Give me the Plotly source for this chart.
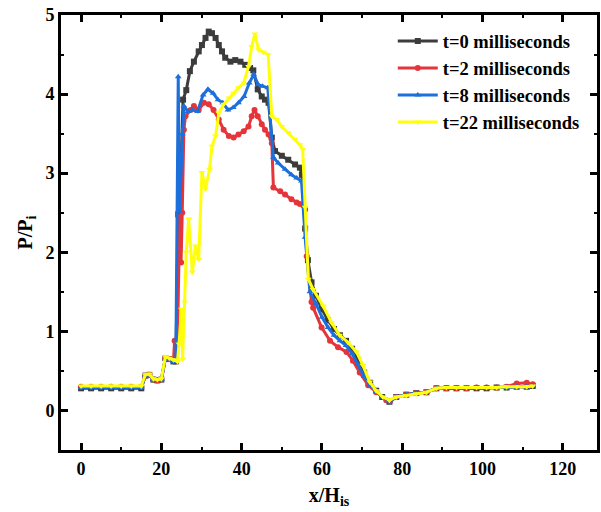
import plotly.graph_objects as go

# ---- data ----
base_x = [0, 2.5, 5, 7.5, 10, 12.5, 15, 16, 17, 18, 19, 20, 21, 22, 23]
tail_x = [78.5, 81, 83.5, 86, 88.5, 91, 93.5, 96, 98.5, 101, 103.5, 106, 108.5, 111, 112.5]

t0_x = [23.6, 24.2, 24.5, 25.4, 26.2, 27.1, 28.1, 29.3, 30.1, 31.0, 31.8, 32.6, 33.5, 34.3, 35.1, 35.9,
        37.2, 38.4, 39.7, 40.9, 42.1, 42.9, 44.0, 45.0, 45.8, 46.7, 47.5, 48.3, 50.0, 51.6, 53.3, 54.5,
        55.0, 55.8, 56.5, 57.4, 58.5, 60.0, 61.5, 63.0, 64.5, 66.0, 67.5, 69.0, 70.5, 72.0, 73.5, 75.0, 76.8]
t0_mid = [0.62, 2.48, 2.45, 3.93, 4.05, 4.29, 4.41, 4.54, 4.62, 4.71, 4.79, 4.77, 4.71, 4.62, 4.54, 4.46,
          4.41, 4.43, 4.41, 4.37, 4.33, 4.30, 4.06, 3.97, 3.93, 3.89, 3.45, 3.28, 3.22, 3.17, 3.11, 3.07,
          2.98, 2.30, 1.90, 1.62, 1.45, 1.28, 1.14, 1.03, 0.95, 0.88, 0.78, 0.63, 0.48, 0.35, 0.25, 0.17, 0.11]
t0_base = [0.28, 0.28, 0.28, 0.28, 0.28, 0.28, 0.28, 0.44, 0.45, 0.39, 0.38, 0.39, 0.66, 0.65, 0.62]
t0_tail = [0.17, 0.20, 0.22, 0.23, 0.28, 0.28, 0.28, 0.28, 0.28, 0.28, 0.29, 0.29, 0.30, 0.30, 0.31]

t2_x = [23.3, 24.0, 24.6, 24.9, 25.2, 25.6, 26.0, 27.3, 28.1, 29.3, 30.6, 31.8, 33.0, 34.3, 35.5, 36.8,
        38.0, 39.2, 40.5, 41.7, 42.5, 43.2, 44.0, 45.0, 45.8, 46.7, 47.5, 47.9, 49.6, 50.8, 52.4, 53.7,
        54.5, 55.8, 56.2, 57.4, 57.8, 59.9, 62.0, 64.0, 66.1, 67.7, 69.4, 71.5, 73.5, 76.0, 77.0]
t2_mid = [0.88, 0.90, 2.45, 1.87, 2.50, 3.55, 3.72, 3.80, 3.85, 3.80, 3.89, 3.87, 3.80, 3.68, 3.55, 3.47,
          3.45, 3.49, 3.53, 3.59, 3.72, 3.80, 3.72, 3.62, 3.55, 3.49, 3.38, 2.82, 2.77, 2.73, 2.67, 2.63,
          2.61, 2.54, 1.95, 1.37, 1.30, 1.05, 0.88, 0.80, 0.74, 0.63, 0.48, 0.32, 0.23, 0.13, 0.12]
t2_base = [0.30, 0.30, 0.30, 0.30, 0.30, 0.30, 0.30, 0.44, 0.45, 0.39, 0.38, 0.39, 0.66, 0.65, 0.63]
t2_tail = [0.17, 0.20, 0.22, 0.23, 0.28, 0.28, 0.28, 0.28, 0.29, 0.29, 0.29, 0.30, 0.34, 0.35, 0.33]

t8_x = [23.6, 24.2, 24.5, 25.2, 25.6, 26.6, 27.8, 29.0, 30.4, 31.6, 32.9, 34.1, 35.3, 36.6, 37.9, 39.2,
        40.6, 41.9, 43.0, 44.1, 45.2, 46.5, 47.9, 49.1, 50.8, 52.4, 53.7, 54.9, 55.8, 57.0, 58.5, 60.0,
        61.5, 63.0, 64.5, 66.0, 67.5, 69.0, 70.5, 72.0, 73.5, 75.0, 76.8]
t8_mid = [0.62, 4.22, 2.52, 3.50, 3.85, 3.78, 3.80, 3.78, 3.99, 4.06, 4.01, 3.93, 3.89, 3.80, 3.83, 3.89,
          3.97, 4.14, 4.25, 4.12, 4.10, 4.08, 3.20, 3.13, 3.05, 2.98, 2.94, 2.90, 2.19, 1.50, 1.35, 1.18,
          1.05, 0.95, 0.88, 0.82, 0.72, 0.58, 0.43, 0.32, 0.24, 0.17, 0.12]
t8_base = [0.29, 0.29, 0.29, 0.29, 0.29, 0.29, 0.29, 0.44, 0.45, 0.39, 0.38, 0.39, 0.66, 0.65, 0.62]
t8_tail = [0.17, 0.20, 0.22, 0.23, 0.28, 0.28, 0.28, 0.28, 0.28, 0.29, 0.29, 0.29, 0.30, 0.30, 0.31]

t22_x = [24.0, 24.4, 25.0, 25.3, 25.8, 26.2, 26.8, 27.7, 28.5, 29.3, 30.1, 31.0, 32.0, 32.6, 33.5, 34.3,
         35.5, 36.8, 38.0, 39.2, 40.5, 41.7, 42.5, 43.3, 44.2, 45.4, 46.6, 47.5, 48.7, 50.0, 51.6, 53.3,
         54.5, 55.2, 55.8, 56.6, 57.8, 60.3, 62.4, 64.4, 66.5, 68.6, 70.2, 71.9, 73.5, 75.2, 76.8]
t22_mid = [0.62, 0.84, 1.28, 0.65, 1.37, 2.00, 2.42, 1.75, 2.08, 1.91, 3.01, 2.80, 3.05, 3.34, 3.47, 3.76,
           3.87, 3.95, 4.01, 4.08, 4.14, 4.35, 4.60, 4.76, 4.56, 4.53, 4.50, 3.72, 3.68, 3.59, 3.51, 3.43,
           3.36, 3.30, 2.57, 1.66, 1.53, 1.32, 1.11, 0.95, 0.86, 0.74, 0.57, 0.36, 0.25, 0.17, 0.13]
t22_base = [0.31, 0.31, 0.31, 0.31, 0.31, 0.31, 0.31, 0.45, 0.46, 0.40, 0.39, 0.40, 0.68, 0.66, 0.64]
t22_tail = [0.17, 0.19, 0.21, 0.23, 0.28, 0.29, 0.29, 0.29, 0.29, 0.29, 0.29, 0.30, 0.30, 0.30, 0.31]

names = ["t=0 milliseconds", "t=2 milliseconds", "t=8 milliseconds", "t=22 milliseconds"]
colors = ["#3c3c3c", "#e5353b", "#1d6fdb", "#ffff0d"]
symbols = ["square", "circle", "triangle-up", "triangle-down"]

series = [
    (t0_x, t0_base, t0_mid, t0_tail),
    (t2_x, t2_base, t2_mid, t2_tail),
    (t8_x, t8_base, t8_mid, t8_tail),
    (t22_x, t22_base, t22_mid, t22_tail),
]

fig = go.Figure()
for (mx, b, m, t), name, c, s in zip(series, names, colors, symbols):
    fig.add_trace(go.Scatter(
        x=base_x + mx + tail_x, y=b + m + t, name=name, mode="lines+markers",
        line=dict(color=c, width=3), marker=dict(symbol=s, size=6, color=c),
    ))

font_family = "Liberation Serif"
axis_common = dict(
    showline=True, linecolor="black", linewidth=3, mirror="allticks",
    ticks="inside", ticklen=7, tickwidth=2.5, tickcolor="black",
    showgrid=False, zeroline=False,
    tickfont=dict(family=font_family, size=18, color="black", weight="bold"),
)

fig.update_xaxes(range=[-5, 128.5], tickvals=[0, 20, 40, 60, 80, 100, 120],
                 minor=dict(ticks="inside", ticklen=3, tickwidth=2, dtick=10, tick0=0, tickcolor="black"),
                 title=dict(text="x/H<sub>is</sub>", font=dict(family=font_family, size=20, color="black", weight="bold"),
                            standoff=11),
                 **axis_common)
fig.update_yaxes(range=[-0.5, 5], tickvals=[0, 1, 2, 3, 4, 5],
                 minor=dict(ticks="inside", ticklen=3, tickwidth=2, dtick=0.5, tick0=0, tickcolor="black"),
                 title=dict(text="P/P<sub>i</sub>", font=dict(family=font_family, size=20, color="black", weight="bold"),
                            standoff=8),
                 **axis_common)

fig.update_layout(
    width=601, height=512,
    margin=dict(l=61, r=1, t=15, b=62),
    paper_bgcolor="white", plot_bgcolor="white",
    legend=dict(x=0.619, y=0.983, xanchor="left", yanchor="top",
                bgcolor="rgba(0,0,0,0)", borderwidth=0,
                font=dict(family=font_family, size=18.5, color="black", weight="bold"),
                tracegroupgap=0, itemwidth=40),
)

fig.write_html("out.html")
